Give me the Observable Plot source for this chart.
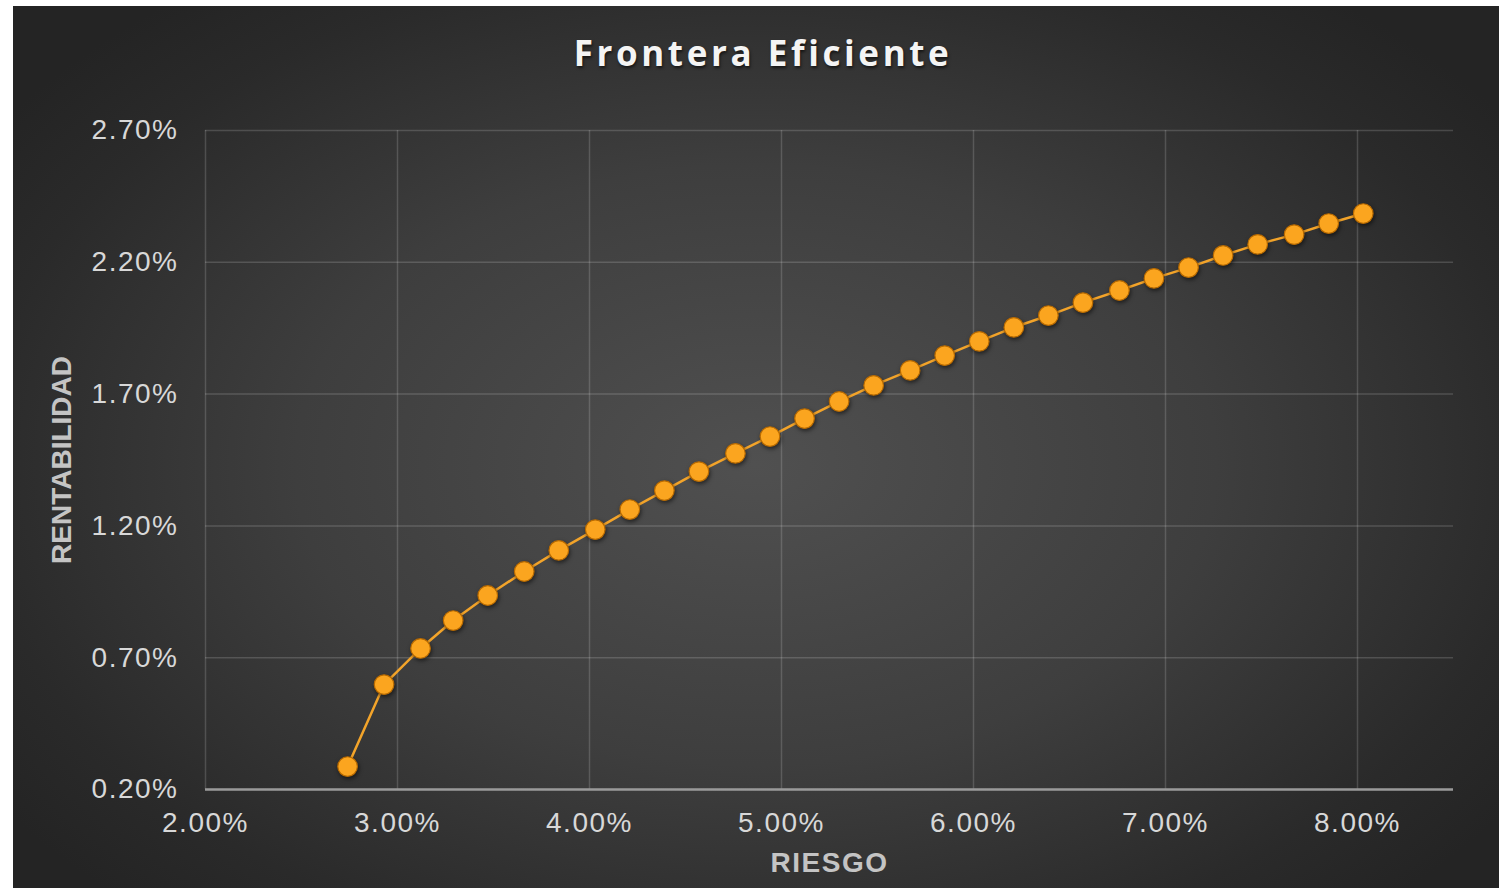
<!DOCTYPE html>
<html>
<head>
<meta charset="utf-8">
<script src="https://cdn.jsdelivr.net/npm/d3@7"></script>
<script src="https://cdn.jsdelivr.net/npm/@observablehq/plot@0.6"></script>
<style>
  html, body { margin: 0; padding: 0; background: #ffffff; }
  #card {
    position: absolute; left: 13px; top: 6px; width: 1486px; height: 882px;
    background: radial-gradient(ellipse 62% 68% at 50% 52%, #505050 0%, #3e3e3e 50%, #2a2a2a 85%, #242424 100%);
    overflow: hidden;
  }
  #title {
    height: 80px; line-height: 94px; text-align: center;
    font-family: "Open Sans", "DejaVu Sans", sans-serif; font-weight: 700;
    font-size: 35px; letter-spacing: 3.6px; color: #f4f4f4;
    text-shadow: 1px 2px 3px rgba(0,0,0,0.6);
    padding-left: 14px;
  }
  #chart svg { display: block; }
  #chart svg g[aria-label="dot"] circle { filter: drop-shadow(1px 2px 2px rgba(0,0,0,0.55)); }
</style>
</head>
<body>
<div id="card">
  <div id="title">Frontera Eficiente</div>
  <div id="chart"></div>
</div>
<script>
// Riesgo (%) and Rentabilidad (%)
const riesgo = [2.74, 2.93, 3.12, 3.29, 3.47, 3.66, 3.84, 4.03, 4.21, 4.39,
                4.57, 4.76, 4.94, 5.12, 5.30, 5.48, 5.67, 5.85, 6.03, 6.21,
                6.39, 6.57, 6.76, 6.94, 7.12, 7.30, 7.48, 7.67, 7.85, 8.03];
const rentabilidad = [0.287, 0.598, 0.735, 0.841, 0.936, 1.027, 1.107, 1.186, 1.262, 1.334,
                      1.406, 1.475, 1.539, 1.607, 1.672, 1.733, 1.790, 1.846, 1.900, 1.953,
                      1.998, 2.047, 2.093, 2.139, 2.180, 2.226, 2.268, 2.305, 2.347, 2.385];
const xTicks = [2, 3, 4, 5, 6, 7, 8];
const yTicks = [0.2, 0.7, 1.2, 1.7, 2.2, 2.7];

const data = riesgo.map((r, i) => ({riesgo: r, rentabilidad: rentabilidad[i]}));
const fmt = d => d.toFixed(2) + "%";

const chart = Plot.plot({
  width: 1486,
  height: 802,
  marginLeft: 192,
  marginRight: 46,
  marginTop: 44,
  marginBottom: 99,
  style: {background: "transparent", fontFamily: "'Liberation Sans', Arial, sans-serif", overflow: "visible"},
  x: {domain: [2, 8.5]},
  y: {domain: [0.2, 2.7]},
  marks: [
    Plot.gridY(yTicks, {stroke: "#ffffff", strokeOpacity: 0.16, strokeWidth: 1.5}),
    Plot.gridX(xTicks, {stroke: "#ffffff", strokeOpacity: 0.16, strokeWidth: 1.5}),
    Plot.ruleY([0.2], {stroke: "#9a9a9a", strokeWidth: 2.5}),
    Plot.axisX({ticks: xTicks, tickFormat: fmt, tickSize: 0, tickPadding: 23, fontSize: 28,
      color: "#d8d8d8", label: "RIESGO", labelAnchor: "center", labelArrow: "none", labelOffset: 82}),
    Plot.axisY({ticks: yTicks, tickFormat: fmt, tickSize: 0, tickPadding: 27, fontSize: 28,
      color: "#d8d8d8", label: "RENTABILIDAD", labelAnchor: "center", labelArrow: "none", labelOffset: 154}),
    Plot.line(data, {x: "riesgo", y: "rentabilidad", stroke: "#f3a42a", strokeWidth: 2.5}),
    Plot.dot(data, {x: "riesgo", y: "rentabilidad", r: 9.8, fill: "#fba51f", stroke: "#b86a00", strokeWidth: 1.2})
  ]
});
document.getElementById("chart").appendChild(chart);
// style axis labels bold
chart.querySelectorAll('g[aria-label="x-axis label"] text, g[aria-label="y-axis label"] text').forEach(t => {
  t.setAttribute("font-weight", "bold");
  t.setAttribute("fill", "#c4c4c4");
});
chart.querySelectorAll('g[aria-label="x-axis tick label"] text').forEach(t => t.setAttribute("letter-spacing", "1.5"));
chart.querySelectorAll('g[aria-label="x-axis label"] text').forEach(t => t.setAttribute("letter-spacing", "1.5"));
chart.querySelectorAll('g[aria-label="y-axis tick label"] text').forEach(t => t.setAttribute("letter-spacing", "1.5"));
</script>
</body>
</html>
